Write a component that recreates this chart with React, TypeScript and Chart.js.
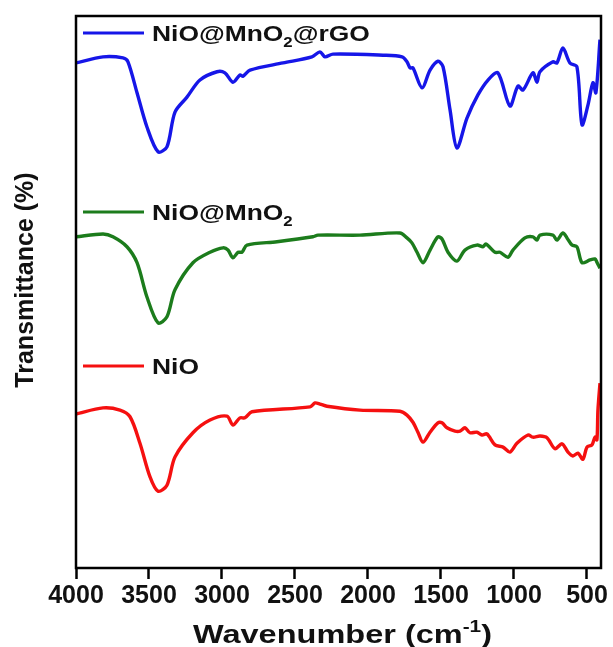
import React, { useEffect, useRef } from "react";
import { Chart, registerables } from "chart.js";

Chart.register(...registerables);

// X axis (wavenumber, cm^-1)
const xTickValues = [4000, 3500, 3000, 2500, 2000, 1500, 1000, 500];
const xMin = 404;
const xMax = 4000;

const seriesLabels = ["NiO@MnO2@rGO", "NiO@MnO2", "NiO"];
const seriesColors = ["#1616e8", "#1c7c1c", "#f51010"];

// NiO@MnO2@rGO
const rgoWn = [4000, 3815, 3678, 3644, 3582, 3514, 3438, 3377, 3322, 3240, 3151, 3034, 2980, 2925, 2877, 2856, 2808, 2582, 2384, 2329, 2295, 2240, 1897, 1767, 1733, 1712, 1692, 1630, 1575, 1521, 1486, 1438, 1391, 1322, 1247, 1178, 1110, 1028, 973, 938, 870, 843, 822, 733, 706, 665, 617, 569, 534, 493, 459, 439, 411];
const rgoT = [91.5, 92.6, 92.4, 91.7, 86.1, 79.9, 75.4, 76.3, 82.6, 85.3, 88.4, 89.9, 89.7, 88.0, 89.3, 89.1, 90.2, 91.5, 92.6, 93.5, 92.6, 93.1, 92.9, 92.6, 91.7, 90.6, 90.6, 87.0, 90.2, 91.8, 90.8, 83.0, 76.1, 81.5, 85.7, 88.4, 89.7, 83.7, 87.3, 86.6, 89.7, 88.0, 89.9, 91.7, 91.5, 94.2, 91.5, 90.8, 80.3, 83.9, 87.9, 86.1, 95.7];

// NiO@MnO2
const mno2Wn = [4000, 3815, 3747, 3651, 3582, 3514, 3438, 3377, 3322, 3199, 3082, 2993, 2959, 2925, 2890, 2863, 2829, 2623, 2377, 2343, 2055, 1781, 1733, 1699, 1664, 1623, 1575, 1521, 1493, 1452, 1391, 1336, 1254, 1212, 1192, 1130, 1096, 1041, 1007, 925, 870, 843, 822, 733, 706, 665, 637, 603, 569, 534, 480, 445, 432, 411];
const mno2T = [60.0, 60.5, 60.0, 58.2, 55.3, 49.1, 44.4, 45.5, 50.4, 55.3, 57.2, 58.0, 57.6, 56.2, 57.2, 57.2, 58.5, 59.1, 60.0, 60.3, 60.3, 60.7, 59.8, 58.9, 57.2, 55.3, 57.6, 60.0, 59.6, 57.2, 55.6, 57.6, 58.5, 58.2, 58.7, 57.2, 57.2, 56.3, 57.6, 59.8, 60.0, 59.4, 60.3, 60.3, 59.4, 60.7, 59.8, 58.5, 58.2, 55.3, 55.8, 56.0, 55.4, 54.3];

// NiO
const nioWn = [4000, 3815, 3699, 3630, 3562, 3493, 3438, 3377, 3322, 3199, 3082, 2966, 2925, 2877, 2843, 2795, 2397, 2363, 2329, 2281, 2055, 1781, 1733, 1692, 1658, 1623, 1575, 1521, 1493, 1459, 1404, 1370, 1336, 1301, 1254, 1219, 1185, 1130, 1075, 1028, 980, 904, 870, 822, 774, 719, 671, 630, 596, 562, 528, 500, 466, 445, 432, 425, 411];
const nioT = [27.9, 29.0, 28.6, 27.4, 22.6, 16.5, 13.9, 15.0, 20.1, 24.5, 26.8, 27.5, 25.9, 27.2, 27.2, 28.3, 29.2, 29.9, 29.7, 29.3, 28.6, 28.4, 27.7, 26.4, 24.6, 22.8, 24.6, 26.3, 26.3, 25.4, 24.8, 24.8, 25.4, 24.5, 24.6, 24.1, 24.3, 22.3, 21.9, 21.0, 22.6, 24.1, 23.7, 23.9, 23.6, 21.6, 22.5, 21.0, 20.3, 20.8, 19.7, 21.9, 22.3, 23.7, 23.2, 28.6, 33.5];

const seriesWn = [rgoWn, mno2Wn, nioWn];
const seriesT = [rgoT, mno2T, nioT];

const FONT = "'Liberation Sans', Arial, sans-serif";

type Part = { t: string; sub?: boolean; sup?: boolean };

function splitChem(s: string): Part[] {
  return s.split(/(\d)/).filter((p) => p.length > 0).map((p) => ({ t: p, sub: /^\d$/.test(p) }));
}

function drawRich(ctx: CanvasRenderingContext2D, parts: Part[], x: number, y: number, size: number, sx: number) {
  ctx.save();
  ctx.translate(x, y);
  ctx.scale(sx, 1);
  ctx.textAlign = "left";
  ctx.textBaseline = "alphabetic";
  ctx.fillStyle = "#111";
  let cx = 0;
  for (const p of parts) {
    const fs = p.sub || p.sup ? Math.round(size * 0.62) : size;
    ctx.font = `bold ${fs}px ${FONT}`;
    const yo = p.sub ? size * 0.28 : p.sup ? -size * 0.45 : 0;
    ctx.fillText(p.t, cx, yo);
    cx += ctx.measureText(p.t).width;
  }
  ctx.restore();
}

const legendLineY = [33, 212, 366];

const overlayPlugin = {
  id: "overlay",
  afterDraw(chart: any) {
    const ctx: CanvasRenderingContext2D = chart.ctx;
    const a = chart.chartArea;
    ctx.save();
    // frame
    ctx.strokeStyle = "#000";
    ctx.lineWidth = 2.5;
    ctx.strokeRect(a.left, a.top, a.right - a.left, a.bottom - a.top);
    // legends
    seriesLabels.forEach((lab, i) => {
      const y = legendLineY[i];
      ctx.strokeStyle = seriesColors[i];
      ctx.lineWidth = 3;
      ctx.beginPath();
      ctx.moveTo(a.left + 7, y);
      ctx.lineTo(a.left + 68, y);
      ctx.stroke();
      drawRich(ctx, splitChem(lab), a.left + 76, y + 8, 22, 1.2);
    });
    // y title
    ctx.save();
    ctx.translate(33, 280);
    ctx.rotate(-Math.PI / 2);
    ctx.font = `bold 25px ${FONT}`;
    ctx.fillStyle = "#111";
    ctx.textAlign = "center";
    ctx.textBaseline = "alphabetic";
    ctx.fillText("Transmittance (%)", 0, 0);
    ctx.restore();
    // x title
    drawRich(ctx, [{ t: "Wavenumber (cm" }, { t: "-1", sup: true }, { t: ")" }], 193, 643, 25, 1.3);
    ctx.restore();
  },
};

export default function App() {
  const ref = useRef<HTMLCanvasElement>(null);
  useEffect(() => {
    if (!ref.current) return;
    const datasets = seriesLabels.map((lab, i) => ({
      label: lab,
      data: seriesWn[i].map((w, j) => ({ x: w, y: seriesT[i][j] })),
      borderColor: seriesColors[i],
      backgroundColor: seriesColors[i],
      borderWidth: 3.4,
      pointRadius: 0,
      tension: 0.3,
      fill: false,
    }));
    const chart = new Chart(ref.current, {
      type: "line",
      data: { datasets },
      options: {
        animation: false,
        responsive: true,
        maintainAspectRatio: false,
        layout: { padding: { left: 76, top: 16, right: 12, bottom: 0 } },
        plugins: { legend: { display: false }, tooltip: { enabled: false } },
        scales: {
          x: {
            type: "linear",
            reverse: true,
            min: xMin,
            max: xMax,
            afterBuildTicks: (axis: any) => {
              axis.ticks = xTickValues.map((v) => ({ value: v }));
            },
            afterFit: (axis: any) => {
              axis.height = 79;
              axis.paddingLeft = 0;
              axis.paddingRight = 0;
            },
            border: { display: false },
            grid: {
              display: true,
              drawOnChartArea: false,
              drawTicks: true,
              tickLength: 11,
              tickColor: "#000",
              tickWidth: 2.5,
            },
            ticks: {
              autoSkip: false,
              maxRotation: 0,
              padding: 2,
              color: "#111",
              font: { family: FONT, size: 25, weight: "bold" },
              callback: (v: any) => String(v),
            },
          },
          y: {
            display: false,
            min: 0,
            max: 100,
          },
        },
      },
      plugins: [overlayPlugin],
    });
    return () => chart.destroy();
  }, []);
  return (
    <div style={{ position: "fixed", left: 0, top: 0, width: 613, height: 647, background: "#fff" }}>
      <canvas ref={ref} />
    </div>
  );
}
